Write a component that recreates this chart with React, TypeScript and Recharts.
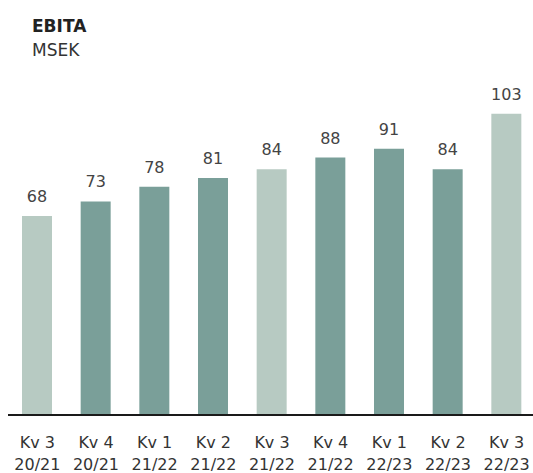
import { BarChart, Bar, XAxis, YAxis, Cell, LabelList } from "recharts";

const quarters = ["Kv 3", "Kv 4", "Kv 1", "Kv 2", "Kv 3", "Kv 4", "Kv 1", "Kv 2", "Kv 3"];
const years = ["20/21", "20/21", "21/22", "21/22", "21/22", "21/22", "22/23", "22/23", "22/23"];
const ebita = [68, 73, 78, 81, 84, 88, 91, 84, 103];

const LIGHT = "#b7cac2";
const DARK = "#7a9f99";
const FONT = "'DejaVu Sans', Verdana, sans-serif";

const data = quarters.map((q, i) => ({ name: `${q} ${years[i]}`, value: ebita[i] }));

function TwoLineTick(props: any) {
  const { x, y, payload } = props;
  const i = payload.index;
  return (
    <text x={x} y={y} textAnchor="middle" fill="#333" fontSize={16} fontFamily={FONT}>
      <tspan x={x} dy={25}>{quarters[i]}</tspan>
      <tspan x={x} dy={22}>{years[i]}</tspan>
    </text>
  );
}

export default function App() {
  return (
    <div style={{ position: "absolute", left: 0, top: 0, width: 533, height: 473, overflow: "hidden", background: "#fff" }}>
      <div style={{ position: "absolute", left: 32, top: 14, fontFamily: FONT, fontSize: 17, lineHeight: "24px", color: "#222" }}>
        <div style={{ fontWeight: "bold" }}>EBITA</div>
        <div style={{ color: "#333" }}>MSEK</div>
      </div>
      <BarChart
        width={536}
        height={473}
        data={data}
        margin={{ top: 64, right: 0, bottom: 0, left: 8 }}
        style={{ position: "absolute", left: 0, top: 0 }}
      >
        <YAxis hide domain={[0, 120]} />
        <XAxis
          dataKey="name"
          interval={0}
          tickLine={false}
          axisLine={{ stroke: "#1a1a1a", strokeWidth: 2 }}
          tick={<TwoLineTick />}
          height={58}
        />
        <Bar dataKey="value" barSize={30} isAnimationActive={false}>
          {data.map((_, i) => (
            <Cell key={i} fill={quarters[i] === "Kv 3" ? LIGHT : DARK} />
          ))}
          <LabelList dataKey="value" position="top" offset={14} fill="#444" fontSize={16} fontFamily={FONT} />
        </Bar>
      </BarChart>
    </div>
  );
}
